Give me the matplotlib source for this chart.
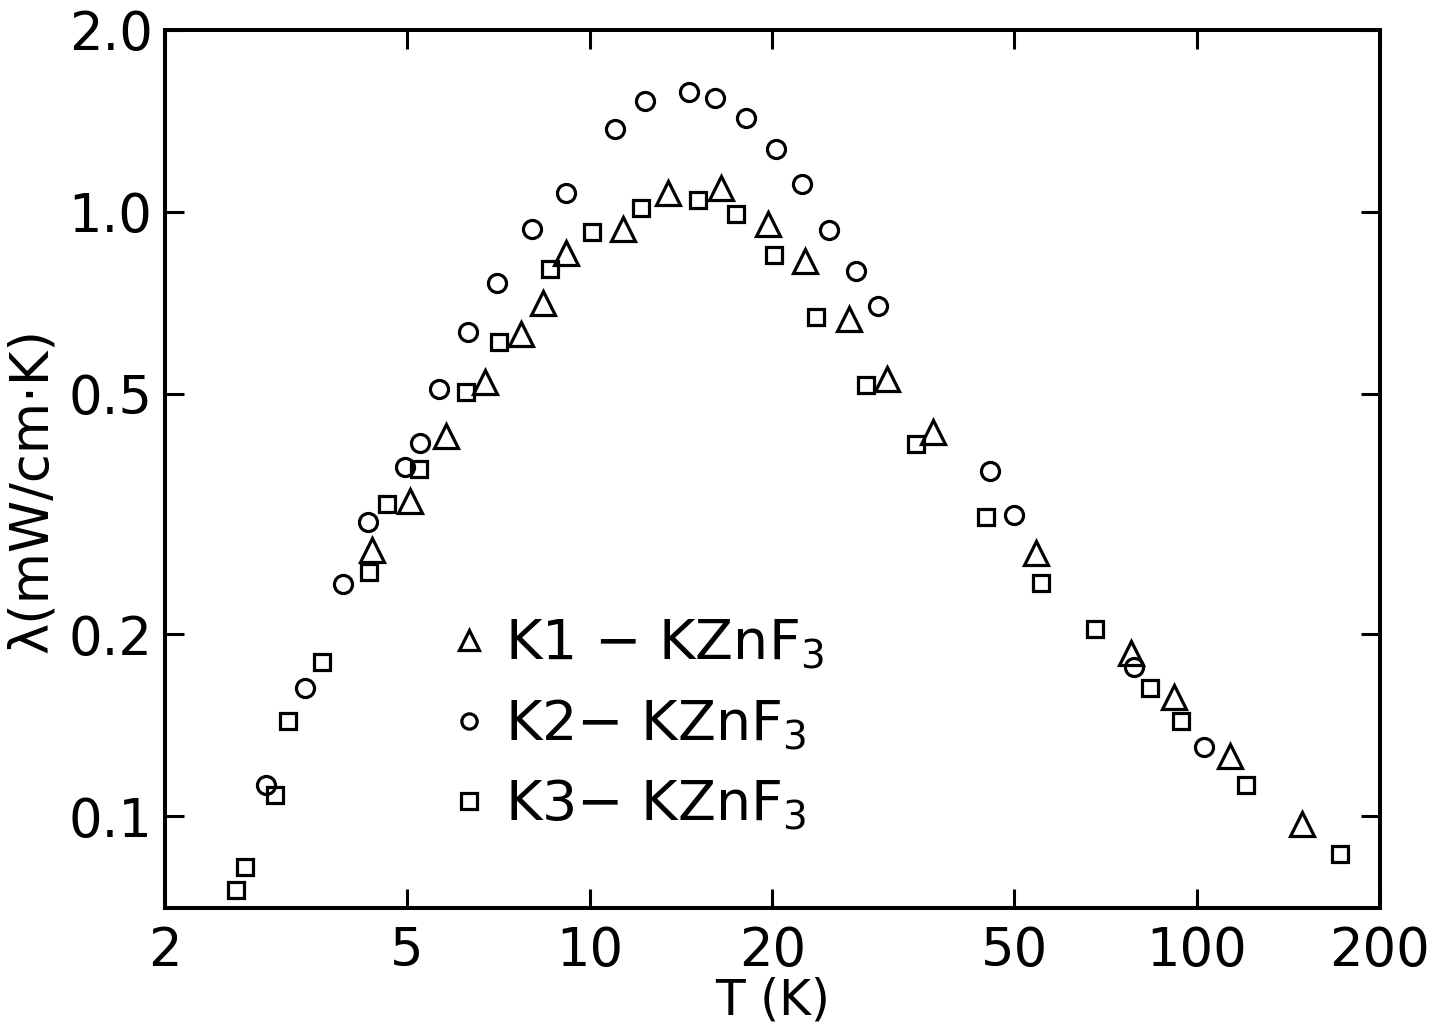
import matplotlib
matplotlib.use("Agg")
import matplotlib.pyplot as plt
from matplotlib.lines import Line2D

# thermal conductivity vs temperature, three KZnF3 samples
k1_T = [4.38, 5.07, 5.81, 6.73, 7.72, 8.38, 9.15, 11.35, 13.46, 16.44, 19.66,
        22.6, 26.7, 30.9, 36.8, 54.2, 77.7, 91.6, 113.4, 148.8]
k1_lam = [0.276, 0.332, 0.426, 0.524, 0.628, 0.708, 0.855, 0.937, 1.076, 1.094,
          0.956, 0.830, 0.666, 0.529, 0.432, 0.273, 0.186, 0.1575, 0.126, 0.0972]

k2_T = [2.93, 3.40, 3.93, 4.32, 4.97, 5.25, 5.65, 6.31, 7.05, 8.05, 9.13, 11.0,
        12.32, 14.6, 16.1, 18.1, 20.3, 22.4, 24.8, 27.4, 29.8, 45.6, 50.0, 78.7,
        102.5]
k2_lam = [0.1125, 0.163, 0.242, 0.307, 0.379, 0.415, 0.510, 0.632, 0.764, 0.938,
          1.076, 1.371, 1.526, 1.579, 1.545, 1.432, 1.269, 1.114, 0.934, 0.797,
          0.699, 0.373, 0.315, 0.1765, 0.130]

k3_T = [2.62, 2.71, 3.03, 3.19, 3.63, 4.33, 4.64, 5.23, 6.25, 7.09, 8.61, 10.09,
        12.16, 15.1, 17.4, 20.1, 23.6, 28.5, 34.4, 45.0, 55.3, 67.8, 83.6, 94.0,
        120.5, 171.7]
k3_lam = [0.0754, 0.0824, 0.1083, 0.1438, 0.180, 0.254, 0.328, 0.376, 0.503,
          0.608, 0.804, 0.928, 1.014, 1.045, 0.991, 0.848, 0.669, 0.517, 0.413,
          0.313, 0.243, 0.204, 0.163, 0.144, 0.1125, 0.0865]

xticks = [2, 5, 10, 20, 50, 100, 200]
xticklabels = ['2', '5', '10', '20', '50', '100', '200']
yticks = [0.1, 0.2, 0.5, 1.0, 2.0]
yticklabels = ['0.1', '0.2', '0.5', '1.0', '2.0']

labels = [r'K1 $-$ KZnF$_3$', r'K2$-$ KZnF$_3$', r'K3$-$ KZnF$_3$']

fig = plt.figure(figsize=(14.4, 10.27), dpi=100)
ax = fig.add_axes([0.1146, 0.1159, 0.8437, 0.8549])

mew = 2.3
ax.plot(k1_T, k1_lam, linestyle='none', marker='^', markersize=17,
        markerfacecolor='none', markeredgecolor='k', markeredgewidth=mew)
ax.plot(k2_T, k2_lam, linestyle='none', marker='o', markersize=13,
        markerfacecolor='none', markeredgecolor='k', markeredgewidth=mew)
ax.plot(k3_T, k3_lam, linestyle='none', marker='s', markersize=12,
        markerfacecolor='none', markeredgecolor='k', markeredgewidth=mew)

ax.set_xscale('log')
ax.set_yscale('log')
ax.set_xlim(2, 200)
ax.set_ylim(0.0705, 2.0)
ax.minorticks_off()
ax.set_xticks(xticks, labels=xticklabels)
ax.set_yticks(yticks, labels=yticklabels)
ax.tick_params(which='major', direction='in', length=14, width=2.2,
               top=True, right=True, labelsize=38)
ax.tick_params(axis='x', pad=12)
ax.tick_params(axis='y', pad=9)
for s in ax.spines.values():
    s.set_linewidth(2.9)

ax.set_xlabel('T (K)', fontsize=35, labelpad=0)
ax.set_ylabel('λ(mW/cm·K)', fontsize=38)
ax.yaxis.set_label_coords(-0.088, 0.475)

handles = [Line2D([], [], linestyle='none', marker=m, markersize=ms,
                  markerfacecolor='none', markeredgecolor='k', markeredgewidth=mew)
           for m, ms in [('^', 14), ('o', 11), ('s', 11)]]
ax.legend(handles, labels, loc='center left', bbox_to_anchor=(0.191, 0.208),
          frameon=False, fontsize=40, handlelength=0.8, handletextpad=0.25,
          labelspacing=0.47)

fig.savefig('out.png', dpi=100)
